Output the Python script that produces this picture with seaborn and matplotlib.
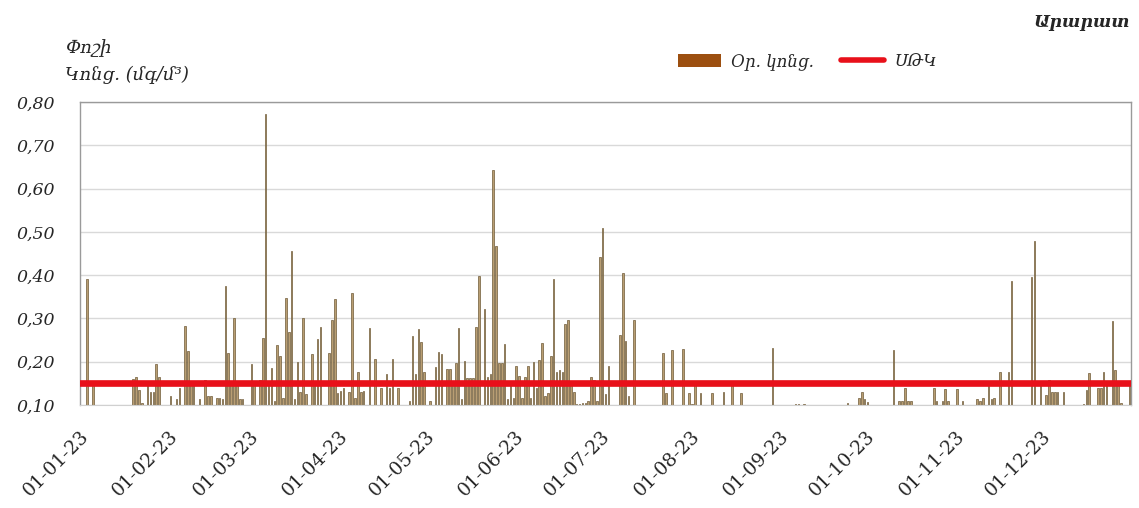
import numpy as np
import pandas as pd
import seaborn as sns
import matplotlib.pyplot as plt
from matplotlib.patches import Patch
from matplotlib.lines import Line2D
from matplotlib.ticker import FuncFormatter

# Օրական կոնցենտրացիաներ (day of month -> value), 2023
jan_days = [3, 5, 19, 20, 21, 22, 24, 25, 26, 27, 28]
jan_vals = [0.39, 0.145, 0.16, 0.165, 0.135, 0.105, 0.145, 0.13, 0.13, 0.195, 0.165]
feb_days = [1, 3, 4, 6, 7, 8, 9, 11, 13, 14, 15, 17, 18, 19, 20, 21, 22, 23, 24, 25, 26]
feb_vals = [0.12, 0.113, 0.138, 0.283, 0.225, 0.145, 0.145, 0.113, 0.158, 0.12, 0.12,
            0.115, 0.115, 0.113, 0.375, 0.22, 0.145, 0.30, 0.145, 0.113, 0.113]
mar_days = [1, 2, 4, 5, 6, 7, 8, 9, 10, 11, 12, 13, 14, 15, 16, 17, 18, 19, 20, 22,
            23, 24, 25, 28, 29, 30, 31]
mar_vals = [0.195, 0.145, 0.158, 0.255, 0.772, 0.145, 0.185, 0.11, 0.238, 0.213, 0.117,
            0.348, 0.268, 0.456, 0.113, 0.198, 0.13, 0.302, 0.125, 0.217, 0.145, 0.252,
            0.279, 0.219, 0.296, 0.344, 0.127]
apr_days = [1, 2, 4, 5, 6, 7, 8, 9, 11, 13, 15, 17, 18, 19, 21, 25, 26, 27, 28, 29, 30]
apr_vals = [0.133, 0.138, 0.13, 0.358, 0.117, 0.177, 0.13, 0.132, 0.277, 0.206, 0.14,
            0.172, 0.14, 0.206, 0.138, 0.108, 0.26, 0.172, 0.275, 0.245, 0.177]
may_days = [2, 4, 5, 6, 8, 9, 10, 11, 12, 13, 14, 15, 16, 17, 18, 19, 21, 22, 23, 24,
            25, 26, 27, 28, 29, 30, 31]
may_vals = [0.109, 0.187, 0.222, 0.218, 0.183, 0.183, 0.146, 0.196, 0.277, 0.113, 0.202,
            0.162, 0.162, 0.162, 0.279, 0.398, 0.322, 0.165, 0.172, 0.644, 0.467, 0.196,
            0.196, 0.241, 0.113, 0.146, 0.117]
jun_days = list(range(1, 31))
jun_vals = [0.19, 0.167, 0.117, 0.164, 0.191, 0.117, 0.20, 0.138, 0.204, 0.242, 0.121,
            0.127, 0.213, 0.392, 0.177, 0.181, 0.177, 0.286, 0.296, 0.146, 0.13, 0.102,
            0.103, 0.104, 0.105, 0.108, 0.164, 0.158, 0.109, 0.441]
jul_days = [1, 2, 3, 7, 8, 9, 10, 12, 22, 23, 25, 29, 31]
jul_vals = [0.508, 0.125, 0.191, 0.262, 0.406, 0.248, 0.121, 0.296, 0.219, 0.127,
            0.227, 0.229, 0.127]
aug_days = [1, 2, 4, 8, 12, 15, 18, 29]
aug_vals = [0.102, 0.146, 0.127, 0.127, 0.13, 0.146, 0.127, 0.232]
sep_days = [6, 7, 9, 24, 28, 29, 30]
sep_vals = [0.102, 0.102, 0.102, 0.104, 0.115, 0.13, 0.114]
oct_days = [1, 10, 12, 13, 14, 15, 16, 24, 25, 27, 28, 29]
oct_vals = [0.106, 0.227, 0.109, 0.109, 0.14, 0.109, 0.109, 0.138, 0.109, 0.109,
            0.136, 0.109]
nov_days = [1, 3, 8, 9, 10, 12, 13, 14, 16, 19, 20, 27, 28, 30]
nov_vals = [0.136, 0.109, 0.113, 0.108, 0.117, 0.144, 0.114, 0.117, 0.175, 0.177,
            0.386, 0.396, 0.479, 0.146]
dec_days = [2, 3, 4, 5, 6, 8, 15, 16, 17, 20, 21, 22, 23, 25, 26, 27, 28, 31]
dec_vals = [0.123, 0.158, 0.13, 0.13, 0.13, 0.13, 0.102, 0.135, 0.173, 0.14, 0.14,
            0.177, 0.146, 0.294, 0.181, 0.146, 0.104, 0.146]

limit_value = 0.15  # ՍԹԿ
tick_labels = ["01-01-23", "01-02-23", "01-03-23", "01-04-23", "01-05-23", "01-06-23",
               "01-07-23", "01-08-23", "01-09-23", "01-10-23", "01-11-23", "01-12-23"]

# table of daily values
months = [(jan_days, jan_vals), (feb_days, feb_vals), (mar_days, mar_vals),
          (apr_days, apr_vals), (may_days, may_vals), (jun_days, jun_vals),
          (jul_days, jul_vals), (aug_days, aug_vals), (sep_days, sep_vals),
          (oct_days, oct_vals), (nov_days, nov_vals), (dec_days, dec_vals)]
rows = []
for m, (days, vals) in enumerate(months, start=1):
    for d, v in zip(days, vals):
        rows.append((pd.Timestamp(2023, m, d), v))
df = pd.DataFrame(rows, columns=["date", "value"])
df["pos"] = df["date"].dt.dayofyear - 1 + 0.5

month_starts = [pd.Timestamp(2023, m, 1).dayofyear - 1 for m in range(1, 13)]

sns.set_style("white")
plt.rcParams["font.family"] = ["DejaVu Serif", "DejaVu Sans"]

fig = plt.figure(figsize=(11.39, 5.08), dpi=100)
ax = fig.add_axes([0.0702, 0.203, 0.9228, 0.596])

sns.barplot(data=df, x="pos", y="value", native_scale=True, width=0.55,
            color="#C4A068", edgecolor="#6E5A38", linewidth=0.5, ax=ax, zorder=2)
ax.axhline(limit_value, color="#E8101A", linewidth=4.8, zorder=3)

ax.set_xlim(0, 365)
ax.set_ylim(0.10, 0.80)
ax.set_yticks(np.arange(0.10, 0.801, 0.10))
ax.yaxis.set_major_formatter(FuncFormatter(lambda v, p: f"{v:.2f}".replace(".", ",")))
ax.set_xticks(month_starts)
ax.set_xticklabels(tick_labels, rotation=45, ha="right", va="top",
                   rotation_mode="anchor", fontsize=13.5)
for lab in ax.get_yticklabels():
    lab.set_fontstyle("italic")
    lab.set_fontsize(12.5)
ax.tick_params(axis="y", length=0, pad=18)
ax.tick_params(axis="x", length=6, width=1, color="#D0D0D0", direction="out", pad=10)
ax.grid(axis="y", color="#D9D9D9", linewidth=1)
ax.set_axisbelow(True)
ax.set_xlabel("")
ax.set_ylabel("")
for side in ["left", "top", "right"]:
    ax.spines[side].set_color("#9A9A9A")
    ax.spines[side].set_linewidth(1)
ax.spines["bottom"].set_color("#D0D0D0")

fig.text(0.057, 0.905, "Փոշի", fontsize=13, fontstyle="italic", ha="left", va="center")
fig.text(0.057, 0.853, "Կոնց. (մգ/մ³)", fontsize=13, fontstyle="italic",
         ha="left", va="center")
fig.text(0.992, 0.955, "Արարատ", fontsize=12.5, fontweight="bold", fontstyle="italic",
         ha="right", va="center")

handles = [Patch(facecolor="#9C4F10", edgecolor="none"),
           Line2D([0], [0], color="#E8101A", linewidth=4)]
fig.legend(handles, ["Օր. կոնց.", "ՍԹԿ"], loc="center", bbox_to_anchor=(0.709, 0.878),
           ncol=2, frameon=False, prop={"style": "italic", "size": 12},
           handlelength=2.6, handleheight=0.8, handletextpad=0.6, columnspacing=1.6)

fig.savefig("out.png", dpi=100)
